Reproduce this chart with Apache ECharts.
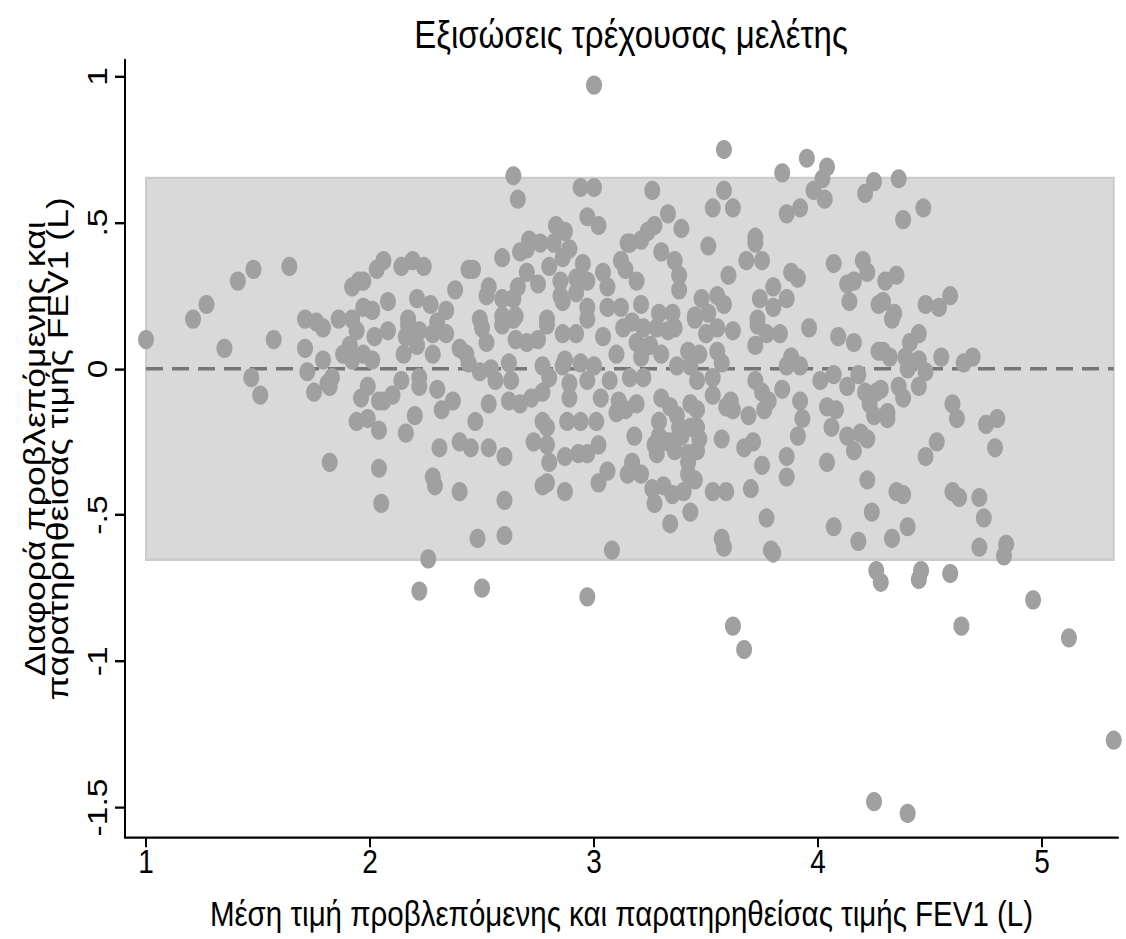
<!DOCTYPE html>
<html>
<head>
<meta charset="utf-8">
<script src="https://cdn.jsdelivr.net/npm/echarts@6/dist/echarts.min.js"></script>
<style>
  html, body { margin: 0; padding: 0; background: #fff; overflow: hidden; }
  #wrap { width: 1126px; height: 939px; overflow: hidden; }
  /* the graph is laid out on a shorter canvas and stretched vertically,
     which gives the tall glyphs and oval markers of the exported figure */
  #chart { width: 1126px; height: 782px; transform: scaleY(1.2); transform-origin: 0 0; }
</style>
</head>
<body>
<div id="wrap"><div id="chart"></div></div>
<script>
// Bland-Altman data: mean of predicted and observed FEV1 (L) vs their difference (L)
const meanFev1 = [
  1.00, 1.21, 1.27, 1.35, 1.41, 1.48, 1.47, 1.51, 1.57, 1.64, 1.71, 1.71, 1.76, 1.79, 1.72, 1.75, 1.81, 1.83, 1.82, 1.79,
  1.86, 1.88, 1.91, 1.94, 1.92, 1.95, 1.97, 2.03, 1.97, 2.01, 1.92, 1.97, 2.01, 2.02, 1.92, 1.99, 1.96, 2.04, 1.94, 1.99,
  2.04, 1.82, 2.04, 2.05, 3.00, 2.64, 2.66, 2.94, 3.00, 2.97, 3.02, 2.83, 2.87, 2.71, 2.76, 2.82, 2.67, 2.70, 2.89, 2.86,
  3.15, 3.12, 3.14, 2.59, 2.46, 2.44, 2.24, 2.19, 2.14, 2.06, 2.70, 2.80, 2.95, 2.92, 2.97, 3.04, 3.06, 2.85, 2.75, 2.38,
  2.53, 2.66, 2.52, 2.59, 2.64, 2.85, 2.86, 2.92, 2.97, 3.06, 3.12, 2.08, 2.21, 2.27, 2.34, 2.17, 2.49, 2.59, 2.65, 2.79,
  2.97, 3.58, 3.84, 3.95, 4.04, 4.02, 3.98, 4.03, 3.26, 3.58, 3.53, 3.62, 3.86, 3.92, 4.21, 4.25, 3.33, 3.39, 3.27, 3.24,
  3.21, 3.16, 3.72, 3.72, 3.51, 3.30, 3.36, 3.68, 3.75, 4.07, 4.20, 4.22, 3.38, 3.60, 3.88, 3.91, 3.19, 3.38, 3.80, 4.13,
  4.16, 3.48, 3.55, 3.58, 3.74, 3.80, 3.86, 4.14, 3.21, 3.29, 3.35, 3.45, 3.51, 4.27, 3.73, 4.36, 4.47, 4.38, 4.35, 4.30,
  4.29, 4.34, 4.48, 4.54, 4.59, 2.08, 2.17, 2.22, 2.28, 2.34, 2.30, 2.16, 2.21, 2.15, 2.28, 2.40, 2.43, 2.44, 2.50, 2.52,
  2.59, 2.64, 2.65, 2.70, 2.75, 2.79, 2.86, 2.92, 3.04, 3.10, 3.13, 2.62, 2.49, 2.54, 2.56, 2.63, 2.77, 2.80, 2.86, 2.87,
  2.94, 3.00, 3.07, 2.89, 2.97, 2.89, 3.03, 3.11, 3.14, 3.10, 2.77, 2.72, 2.67, 2.62, 2.53, 2.47, 2.37, 2.32, 2.30, 2.22,
  2.22, 2.14, 2.10, 2.06, 2.20, 2.16, 2.31, 2.40, 2.45, 2.53, 2.60, 2.28, 2.29, 2.40, 2.60, 2.77, 2.79, 2.73, 2.79, 2.80,
  2.87, 2.93, 2.97, 3.02, 2.88, 2.94, 3.01, 3.06, 3.02, 3.15, 2.77, 2.79, 2.87, 2.48, 2.60, 3.08, 2.26, 2.22, 2.50, 2.97,
  3.17, 3.22, 3.28, 3.33, 3.36, 3.45, 3.50, 3.55, 3.62, 3.73, 3.77, 3.83, 3.72, 3.96, 4.09, 4.16, 4.27, 3.19, 3.25, 3.21,
  3.30, 3.42, 3.47, 3.55, 3.57, 3.37, 3.43, 3.88, 3.92, 3.86, 3.53, 3.46, 3.22, 3.16, 4.01, 4.07, 4.18, 4.13, 3.72, 3.75,
  3.84, 3.53, 3.78, 3.92, 4.21, 4.26, 3.30, 3.19, 3.43, 3.46, 3.34, 3.61, 3.62, 3.59, 3.69, 3.76, 4.04, 4.08, 4.23, 4.25,
  3.93, 3.37, 3.38, 3.29, 3.43, 3.46, 4.06, 3.18, 3.29, 3.33, 3.35, 3.39, 3.47, 3.46, 3.57, 3.91, 4.13, 4.19, 4.22, 3.67,
  3.71, 3.27, 3.28, 3.42, 3.36, 3.86, 4.16, 3.75, 4.04, 3.17, 3.42, 3.21, 3.42, 3.45, 3.86, 4.22, 3.26, 3.31, 3.35, 3.40,
  3.27, 3.53, 3.59, 3.70, 4.24, 3.43, 3.34, 3.77, 4.07, 3.57, 3.58, 3.80, 3.79, 4.18, 4.26, 4.28, 3.62, 3.67, 4.25, 4.40,
  4.33, 4.45, 4.41, 4.29, 4.32, 4.39, 4.45, 4.55, 4.65, 4.69, 4.40, 4.48, 4.28, 4.36, 4.38, 4.45, 4.31, 4.31, 4.60, 4.62,
  4.75, 4.80, 4.79, 4.53, 4.48, 4.35, 4.38, 4.60, 4.63, 4.72, 4.74, 4.40, 4.33, 4.72, 4.84, 4.83, 4.46, 4.45, 4.59, 4.96,
  4.64, 5.12, 5.32
];
const diffFev1 = [
  0.10, 0.17, 0.22, 0.07, 0.30, 0.34, -0.03, -0.09, 0.10, 0.35, 0.17, 0.07, 0.16, 0.14, -0.01, -0.08, -0.05, -0.03, -0.06, 0.03,
  0.17, 0.05, 0.08, 0.13, 0.28, 0.30, 0.30, 0.34, 0.21, 0.20, 0.17, 0.05, 0.03, 0.11, 0.03, -0.06, -0.10, -0.11, -0.18, -0.17,
  -0.21, -0.32, -0.34, -0.46, 0.97, 0.66, 0.58, 0.62, 0.62, 0.52, 0.49, 0.49, 0.47, 0.44, 0.43, 0.43, 0.40, 0.41, 0.41, 0.38,
  0.43, 0.37, 0.34, 0.38, 0.34, 0.34, 0.35, 0.37, 0.35, 0.37, 0.33, 0.35, 0.36, 0.31, 0.30, 0.33, 0.28, 0.30, 0.29, 0.27,
  0.28, 0.28, 0.25, 0.24, 0.24, 0.25, 0.23, 0.26, 0.21, 0.21, 0.21, 0.23, 0.24, 0.22, 0.20, 0.17, 0.17, 0.18, 0.18, 0.17,
  0.17, 0.75, 0.67, 0.72, 0.69, 0.65, 0.61, 0.58, 0.61, 0.61, 0.55, 0.55, 0.53, 0.55, 0.60, 0.64, 0.53, 0.48, 0.49, 0.47,
  0.44, 0.43, 0.45, 0.43, 0.42, 0.40, 0.37, 0.37, 0.37, 0.36, 0.37, 0.33, 0.32, 0.32, 0.33, 0.31, 0.30, 0.27, 0.28, 0.29,
  0.30, 0.24, 0.25, 0.22, 0.24, 0.21, 0.24, 0.23, 0.22, 0.19, 0.19, 0.18, 0.19, 0.22, 0.17, 0.65, 0.55, 0.51, 0.32, 0.30,
  0.23, 0.19, 0.22, 0.21, 0.25, 0.13, 0.15, 0.13, 0.12, 0.12, 0.16, 0.11, 0.08, 0.05, 0.05, 0.07, 0.05, 0.02, 0.14, 0.09,
  0.15, 0.17, 0.10, 0.09, 0.10, 0.15, 0.12, 0.12, 0.11, 0.05, 0.14, 0.02, -0.01, 0.00, -0.04, -0.04, 0.01, -0.03, 0.01, 0.03,
  0.02, 0.01, -0.04, -0.05, -0.04, -0.10, -0.10, -0.11, -0.14, -0.15, -0.08, -0.10, -0.12, -0.11, -0.12, -0.18, -0.11, -0.14, -0.07, -0.06,
  -0.03, -0.04, -0.09, -0.11, -0.16, -0.22, -0.27, -0.25, -0.27, -0.27, -0.30, -0.37, -0.40, -0.42, -0.45, -0.18, -0.20, -0.25, -0.26, -0.32,
  -0.30, -0.29, -0.29, -0.26, -0.18, -0.18, -0.18, -0.35, -0.39, -0.36, -0.40, -0.39, -0.42, -0.58, -0.57, -0.62, -0.65, -0.76, -0.75, -0.78,
  0.16, 0.14, 0.14, 0.13, 0.14, 0.17, 0.12, 0.14, 0.13, 0.15, 0.12, 0.12, 0.08, 0.14, 0.11, 0.09, 0.06, 0.09, 0.08, 0.04,
  0.05, 0.06, 0.05, 0.06, 0.02, 0.01, 0.01, 0.04, 0.01, 0.01, -0.03, -0.04, -0.03, -0.03, -0.04, -0.02, -0.02, -0.06, -0.04, -0.08,
  -0.07, -0.09, -0.11, -0.11, -0.08, -0.08, -0.10, -0.12, -0.12, -0.14, -0.13, -0.11, -0.14, -0.13, -0.16, -0.14, -0.13, -0.14, -0.12, -0.16,
  -0.17, -0.16, -0.20, -0.18, -0.20, -0.20, -0.20, -0.23, -0.23, -0.25, -0.25, -0.23, -0.24, -0.28, -0.24, -0.23, -0.23, -0.22, -0.24, -0.27,
  -0.25, -0.26, -0.29, -0.29, -0.28, -0.30, -0.28, -0.33, -0.32, -0.32, -0.32, -0.36, -0.36, -0.38, -0.37, -0.38, -0.41, -0.40, -0.43, -0.42,
  -0.46, -0.42, -0.42, -0.41, -0.49, -0.49, -0.53, -0.51, -0.54, -0.58, -0.61, -0.63, -0.62, -0.59, -0.69, -0.73, -0.88, -0.96, -1.48, -1.52,
  0.17, 0.12, 0.09, 0.06, 0.04, 0.04, 0.03, 0.04, 0.02, 0.04, 0.00, -0.01, -0.07, -0.06, -0.10, -0.06, -0.15, -0.17, -0.12, -0.17,
  -0.19, -0.17, -0.27, -0.25, -0.30, -0.42, -0.43, -0.42, -0.44, -0.44, -0.51, -0.54, -0.58, -0.61, -0.60, -0.64, -0.69, -0.72, -0.70, -0.79,
  -0.88, -0.92, -1.27
];

// mean difference and 95% limits of agreement
const meanDiff = 0;
const loaLower = -0.653;
const loaUpper = 0.653;

// axis ticks and their labels
const xTickValues = [1, 2, 3, 4, 5];
const xTickLabels = ['1', '2', '3', '4', '5'];
const yTickValues = [-1.5, -1, -0.5, 0, 0.5, 1];
const yTickLabels = ['-1.5', '-1', '-.5', '0', '.5', '1'];

const titleText = 'Εξισώσεις τρέχουσας μελέτης';
const xTitle = 'Μέση τιμή προβλεπόμενης και παρατηρηθείσας τιμής FEV1 (L)';
const yTitle = 'Διαφορά προβλεπόμενης και\nπαρατηρηθείσας τιμής FEV1 (L)';

const points = meanFev1.map((m, i) => [m, diffFev1[i]]);
const xLo = Math.min(...meanFev1);
const xHi = Math.max(...meanFev1);

const FONT = 'Liberation Sans, Arial, sans-serif';
const chart = echarts.init(document.getElementById('chart'), null, { renderer: 'svg' });

chart.setOption({
  animation: false,
  backgroundColor: '#ffffff',
  title: {
    text: titleText,
    left: 626,
    top: 7,
    textAlign: 'center',
    textStyle: { fontFamily: FONT, fontSize: 33, fontWeight: 'normal', color: '#000' }
  },
  grid: { left: 125, right: 8, top: 50, bottom: 84, containLabel: false },
  xAxis: {
    type: 'value',
    min: 0.90625,
    max: 5.339,
    name: xTitle,
    nameLocation: 'middle',
    nameGap: 49,
    nameTextStyle: { fontFamily: FONT, fontSize: 29.5, color: '#000' },
    axisLine: { show: true, onZero: false, lineStyle: { color: '#000', width: 2 } },
    axisTick: { show: true, length: 8, customValues: xTickValues, lineStyle: { color: '#000', width: 2 } },
    axisLabel: {
      customValues: xTickValues,
      margin: 6,
      fontFamily: FONT, fontSize: 28, color: '#000',
      formatter: v => xTickLabels[xTickValues.indexOf(v)] ?? ''
    },
    splitLine: { show: false }
  },
  yAxis: {
    type: 'value',
    min: -1.603,
    max: 1.056,
    name: yTitle,
    nameLocation: 'middle',
    nameRotate: 90,
    nameGap: 56,
    nameTextStyle: { fontFamily: FONT, fontSize: 29.6, color: '#000', lineHeight: 23 },
    axisLine: { show: true, onZero: false, lineStyle: { color: '#000', width: 2 } },
    axisTick: { show: true, length: 10, customValues: yTickValues, lineStyle: { color: '#000', width: 2 } },
    axisLabel: {
      customValues: yTickValues,
      rotate: 90,
      margin: 14,
      fontFamily: FONT, fontSize: 28, color: '#000',
      formatter: v => yTickLabels[yTickValues.indexOf(v)] ?? ''
    },
    splitLine: { show: false }
  },
  series: [
    {
      // limits-of-agreement band
      type: 'line',
      data: [],
      silent: true,
      z: 1,
      markArea: {
        silent: true,
        itemStyle: { color: '#d9d9d9', borderColor: '#cbcbcb', borderWidth: 2 },
        data: [[{ coord: [xLo, loaLower] }, { coord: [xHi, loaUpper] }]]
      }
    },
    {
      // mean difference
      type: 'line',
      data: [[xLo, meanDiff], [xHi, meanDiff]],
      symbol: 'none',
      silent: true,
      z: 2,
      lineStyle: { color: '#777777', width: 3, type: [17, 9] }
    },
    {
      type: 'scatter',
      data: points,
      symbol: 'circle',
      symbolSize: 16,
      z: 3,
      itemStyle: { color: '#a0a0a0', opacity: 1 }
    }
  ]
});
</script>
</body>
</html>
